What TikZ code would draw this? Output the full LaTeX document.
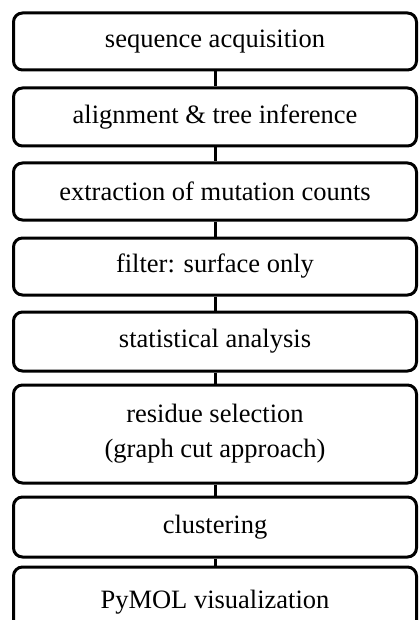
\documentclass[tikz,border=0pt]{standalone}
\usepackage{fontspec}
\setmainfont{Liberation Serif}

\tikzset{
  stepbox/.style={draw, rounded corners=9pt, line width=3pt, minimum width=403pt,
    align=center, inner sep=0pt, font=\fontsize{26.5}{35}\selectfont}
}

\begin{document}
\begin{tikzpicture}[x=1pt, y=-1pt]
  \useasboundingbox (0,0) rectangle (418,620);
  \node[stepbox, minimum height=57pt] (seq) at (215, 41.5) {sequence acquisition};
  \node[stepbox, minimum height=58pt] (aln) at (215, 117) {alignment \& tree inference};
  \node[stepbox, minimum height=57pt] (ext) at (215, 191.5) {extraction of mutation counts};
  \node[stepbox, minimum height=57pt] (filt) at (215, 266.5) {filter: surface only};
  \node[stepbox, minimum height=59pt] (stat) at (215, 341.5) {statistical analysis};
  \node[stepbox, minimum height=98pt] (sel) at (215, 434) {residue selection\\(graph cut approach)};
  \node[stepbox, minimum height=60pt] (clu) at (215, 527) {clustering};
  \node[stepbox, minimum height=70pt] (vis) at (215, 602) {PyMOL visualization};
  \draw[line width=3pt, black]
  (seq) edge (aln)
  (aln) edge (ext)
  (ext) edge (filt)
  (filt) edge (stat)
  (stat) edge (sel)
  (sel) edge (clu)
  (clu) edge (vis);
\end{tikzpicture}
\end{document}
